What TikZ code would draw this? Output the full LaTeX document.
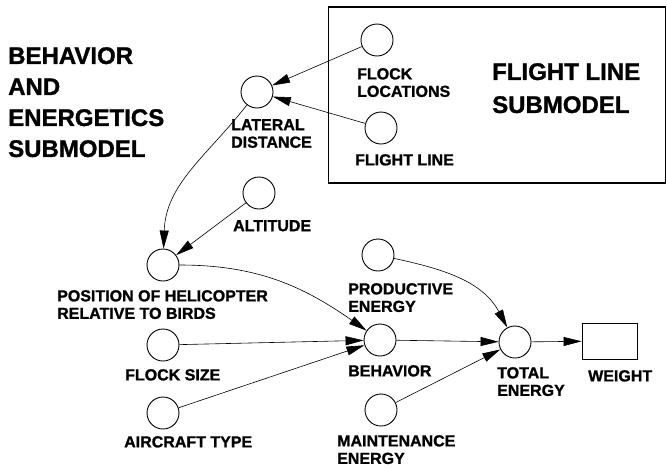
\documentclass[tikz,border=0pt]{standalone}
\usepackage{fontspec}
\setmainfont{Liberation Sans}[BoldFeatures={FakeBold=1.2}]
\usepackage{tikz}
\usetikzlibrary{arrows.meta}

\begin{document}
\begin{tikzpicture}[x=1pt, y=1pt,
  var/.style={draw, circle, line width=0.9pt, minimum size=32pt, inner sep=0pt},
  stock/.style={draw, line width=0.9pt, minimum width=55pt, minimum height=36pt, inner sep=0pt},
  lbl/.style={font=\bfseries\fontsize{16}{17.5}\selectfont, align=left, inner sep=0pt, anchor=north west},
  ttl/.style={font=\bfseries\fontsize{24}{31}\selectfont, align=left, inner sep=0pt, anchor=north west},
  arr/.style={->, line width=0.6pt},
  >={Triangle[length=18pt, width=9pt]}]
\useasboundingbox (0,0) rectangle (667,-469);
% flight line submodel (boxed, upper right)
\node[draw, line width=1.6pt, minimum width=337pt, minimum height=176pt, inner sep=0pt] (flsub) at (497,-95) {};
\node[ttl, font=\bfseries\fontsize{24}{33}\selectfont] (flttl) at (492,-63) {FLIGHT LINE\\SUBMODEL};
\node[var] (floc) at (377,-40) {};
\node[lbl] (floclbl) at (357,-68) {FLOCK\\LOCATIONS};
\node[var] (fline) at (381,-128) {};
\node[lbl] (flinelbl) at (355,-154) {FLIGHT LINE};
% behavior and energetics submodel
\node[ttl] (bettl) at (8,-47) {BEHAVIOR\\AND\\ENERGETICS\\SUBMODEL};
\node[var] (lat) at (257,-92) {};
\node[lbl] (latlbl) at (231,-119) {LATERAL\\DISTANCE};
\node[var] (alt) at (259,-193) {};
\node[lbl] (altlbl) at (233,-220) {ALTITUDE};
\node[var] (pos) at (163,-265) {};
\node[lbl] (poslbl) at (57,-290) {POSITION OF HELICOPTER\\RELATIVE TO BIRDS};
\node[var] (fsize) at (163,-345) {};
\node[lbl] (fsizelbl) at (125,-369) {FLOCK SIZE};
\node[var] (atype) at (163,-413) {};
\node[lbl] (atypelbl) at (124,-436) {AIRCRAFT TYPE};
\node[var] (prod) at (378,-255) {};
\node[lbl] (prodlbl) at (348,-283) {PRODUCTIVE\\ENERGY};
\node[var] (beh) at (380,-340) {};
\node[lbl] (behlbl) at (348,-365) {BEHAVIOR};
\node[var] (maint) at (381,-410) {};
\node[lbl] (maintlbl) at (337,-435) {MAINTENANCE\\ENERGY};
\node[var] (tot) at (515,-342) {};
\node[lbl] (totlbl) at (497,-367) {TOTAL\\ENERGY};
\node[stock] (weight) at (609.5,-341) {};
\node[lbl] (weightlbl) at (588,-370) {WEIGHT};
% connectors
\draw[arr] (floc) -- (lat);
\draw[arr] (fline) -- (lat);
\draw[arr] (lat) to[out=232, in=88] (pos);
\draw[arr] (alt) -- (pos);
\draw[arr] (pos) to[out=0, in=145] (beh);
\draw[arr] (fsize) -- (beh);
\draw[arr] (atype) -- (beh);
\draw[arr] (prod) to[out=-12, in=118] (tot);
\draw[arr] (beh) -- (tot);
\draw[arr] (maint) -- (tot);
\draw[arr] (tot) -- (weight);
\end{tikzpicture}
\end{document}
